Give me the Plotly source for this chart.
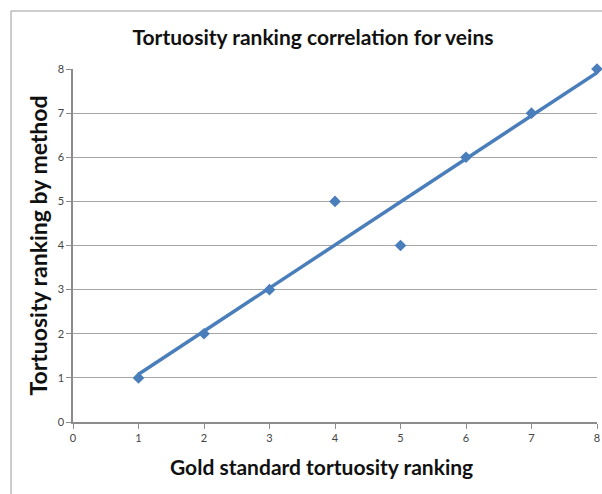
import numpy as np
import plotly.graph_objects as go

gold_rank = [1, 2, 3, 4, 5, 6, 7, 8]
method_rank = [1, 2, 3, 5, 4, 6, 7, 8]
tick_vals = [0, 1, 2, 3, 4, 5, 6, 7, 8]

blue = "#4A7EBB"

slope, intercept = np.polyfit(gold_rank, method_rank, 1)
x_fit = [min(gold_rank), max(gold_rank)]
y_fit = [slope * v + intercept for v in x_fit]

fig = go.Figure()
fig.add_trace(go.Scatter(x=x_fit, y=y_fit, mode="lines",
                         line=dict(color=blue, width=3.5), hoverinfo="skip",
                         cliponaxis=False))
fig.add_trace(go.Scatter(x=gold_rank, y=method_rank, mode="markers",
                         marker=dict(symbol="diamond", size=9, color=blue),
                         cliponaxis=False))

L, R, T, B = 73, 5, 69, 72
W, H = 602, 494
pw, ph = W - L - R, H - T - B
fx = (11 - L) / pw
fy_top = (H - B - 11) / ph
fy_bot = (H - B - 500) / ph

fig.add_shape(type="line", xref="paper", yref="paper", x0=fx, x1=fx, y0=fy_bot, y1=fy_top,
              line=dict(color="#9a9a9a", width=1))
fig.add_shape(type="line", xref="paper", yref="paper", x0=fx, x1=1.2, y0=fy_top, y1=fy_top,
              line=dict(color="#9a9a9a", width=1))

fig.add_annotation(text="<b>Gold standard tortuosity ranking</b>",
                   xref="paper", yref="paper",
                   x=(321 - L) / pw, y=(H - B - 466) / ph,
                   xanchor="center", yanchor="middle", showarrow=False,
                   font=dict(family="Lato", size=21, color="#111"))

fig.update_layout(
    width=W, height=H,
    margin=dict(l=L, r=R, t=T, b=B, autoexpand=False),
    paper_bgcolor="white", plot_bgcolor="white",
    showlegend=False,
    title=dict(text="<b>Tortuosity ranking correlation for veins</b>",
               x=313 / W, xanchor="center", y=1 - 38 / H, yanchor="middle",
               font=dict(family="Lato", size=21, color="#111")),
    xaxis=dict(range=[0, 8], tickvals=tick_vals, showgrid=False, zeroline=False,
               automargin=False,
               showline=True, linecolor="#8c8c8c", linewidth=1.5,
               ticks="outside", ticklen=5, tickcolor="#8c8c8c",
               tickfont=dict(family="Lato", size=11, color="#444")),
    yaxis=dict(range=[0, 8], tickvals=tick_vals, showgrid=True, gridcolor="#a6a6a6",
               gridwidth=1.2, zeroline=False, automargin=False,
               showline=True, linecolor="#8c8c8c", linewidth=1.5,
               ticks="outside", ticklen=5, tickcolor="#8c8c8c",
               tickfont=dict(family="Lato", size=11, color="#444"),
               title=dict(text="<b>Tortuosity ranking by method</b>",
                          font=dict(family="Lato", size=23, color="#111"), standoff=4)),
)

fig.write_html("out.html", config={"displayModeBar": False},
               post_script="document.body.style.margin='0';document.body.style.overflow='hidden';")
